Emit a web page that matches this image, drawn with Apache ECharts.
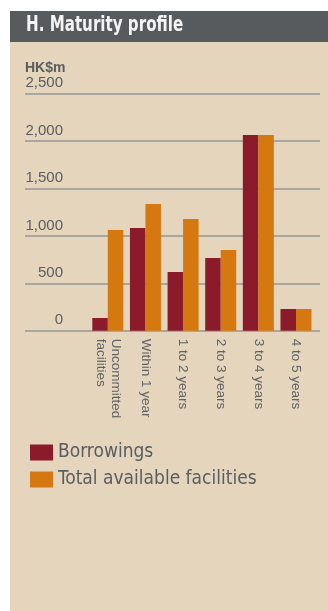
<!DOCTYPE html>
<html>
<head>
<meta charset="utf-8">
<script src="https://cdn.jsdelivr.net/npm/echarts@6/dist/echarts.min.js"></script>
<style>
  html, body { margin: 0; padding: 0; background: #ffffff; }
  #chart { width: 328px; height: 611px; }
</style>
</head>
<body>
<div id="chart"></div>
<script>
// Maturity profile, HK$ million
const categories = ['Uncommitted\nfacilities', 'Within 1 year', '1 to 2 years', '2 to 3 years', '3 to 4 years', '4 to 5 years'];
const borrowings = [134, 1083, 619, 767, 2064, 229];
const totalFacilities = [1062, 1337, 1178, 851, 2064, 229];
const yTicks = { min: 0, max: 2500, interval: 500 };

const condensed = '"DejaVu Sans Condensed", "DejaVu Sans", sans-serif';
const plain = '"Liberation Sans", Arial, sans-serif';
const textGrey = '#5a5d60';

const chart = echarts.init(document.getElementById('chart'), null, { renderer: 'canvas' });

const gridTop = 93.7, gridBottom = 611 - 330.7;

chart.setOption({
  backgroundColor: '#ffffff',
  animation: false,
  graphic: [
    { type: 'rect', left: 10, top: 11, shape: { width: 318, height: 600 }, style: { fill: '#e4d5bc' }, z: -10 },
    { type: 'rect', left: 10, top: 11, shape: { width: 318, height: 31 }, style: { fill: '#575b5e' }, z: -9 },
    {
      type: 'text', x: 26, y: 15, scaleX: 0.8,
      style: { text: 'H. Maturity profile', fill: '#f4f4f4', font: 'bold 21px ' + condensed }
    },
    { type: 'text', left: 25, top: 61, style: { text: 'HK$m', fill: textGrey, font: 'bold 14px ' + plain } }
  ],
  grid: [
    { left: 25, right: 8, top: gridTop, bottom: gridBottom },
    { left: 89, right: 13.2, top: gridTop, bottom: gridBottom }
  ],
  xAxis: [
    { gridIndex: 0, type: 'value', min: 0, max: 1, show: false },
    {
      gridIndex: 1, type: 'category', data: categories,
      axisLine: { show: false }, axisTick: { show: false },
      axisLabel: {
        rotate: -90, margin: 8, color: '#5f6264', fontSize: 13.5,
        fontFamily: plain, lineHeight: 15
      }
    }
  ],
  yAxis: [
    {
      gridIndex: 0, type: 'value', min: yTicks.min, max: yTicks.max, interval: yTicks.interval,
      axisLine: { show: false }, axisTick: { show: false },
      splitLine: { lineStyle: { color: '#a9a69f', width: 2 } },
      axisLabel: {
        inside: true, margin: 38, align: 'right', verticalAlign: 'bottom',
        padding: [0, 0, 3, 0],
        color: textGrey, fontSize: 15, fontFamily: plain,
        formatter: v => v.toLocaleString('en-US')
      }
    },
    { gridIndex: 1, type: 'value', min: yTicks.min, max: yTicks.max, interval: yTicks.interval, show: false }
  ],
  legend: {
    orient: 'vertical', left: 25, top: 438, itemWidth: 23, itemHeight: 16, itemGap: 8,
    icon: 'rect',
    textStyle: { color: textGrey, fontSize: 19, fontFamily: condensed },
    data: ['Borrowings', 'Total available facilities']
  },
  series: [
    {
      name: 'Borrowings', type: 'bar', xAxisIndex: 1, yAxisIndex: 1,
      data: borrowings, barWidth: 15.5, barGap: '0%',
      itemStyle: { color: '#8b1a2b' }
    },
    {
      name: 'Total available facilities', type: 'bar', xAxisIndex: 1, yAxisIndex: 1,
      data: totalFacilities, barWidth: 15.5, barGap: '0%',
      itemStyle: { color: '#d5780f' }
    }
  ]
});
</script>
</body>
</html>
